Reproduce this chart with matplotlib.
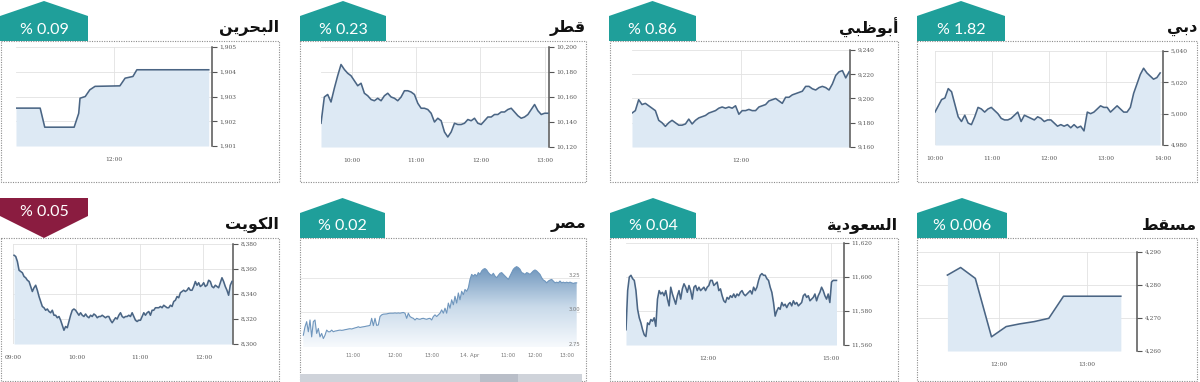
import numpy as np
import matplotlib
matplotlib.use("Agg")
import matplotlib.pyplot as plt
from matplotlib.patches import Polygon, Rectangle
from matplotlib.colors import LinearSegmentedColormap

# ------------------------------------------------------------------ data
market_names = ["البحرين", "قطر", "أبوظبي", "دبي", "الكويت", "مصر", "السعودية", "مسقط"]
market_changes = ["% 0.09", "% 0.23", "% 0.86", "% 1.82", "% 0.05", "% 0.02", "% 0.04", "% 0.006"]
market_up = [True, True, True, True, False, True, True, True]

# Bahrain (step-like, explicit times)
bahrain_times = ["09:30", "10:07", "10:14", "10:59", "11:02", "11:06", "11:08", "11:16",
                 "11:23", "11:31", "12:09", "12:17", "12:29", "12:35", "14:25"]
bahrain_values = [1902.53, 1902.53, 1901.76, 1901.76, 1902.0, 1902.32, 1902.93, 1903.0,
                  1903.27, 1903.41, 1903.43, 1903.74, 1903.81, 1904.08, 1904.08]
bahrain_yticks = [1901, 1902, 1903, 1904, 1905]
bahrain_xticks = ["12:00"]

# Qatar (evenly spaced 09:31 -> 13:03)
qatar_span = ("09:31", "13:03")
qatar_values = [10139, 10160, 10162, 10156, 10167, 10177, 10186, 10182, 10179, 10177,
                10173, 10169, 10171, 10163, 10161, 10158, 10157, 10159, 10157, 10161,
                10163, 10160, 10159, 10157, 10160, 10165, 10165, 10164, 10162, 10155,
                10151, 10151, 10150, 10147, 10140, 10143, 10141, 10132, 10128, 10132,
                10139, 10138, 10138, 10139, 10142, 10141, 10143, 10139, 10138, 10141,
                10144, 10144, 10146, 10146, 10148, 10148, 10150, 10151, 10148, 10145,
                10143, 10144, 10146, 10150, 10154, 10149, 10146, 10147, 10147]
qatar_yticks = [10120, 10140, 10160, 10180, 10200]
qatar_xticks = ["10:00", "11:00", "12:00", "13:00"]

# Abu Dhabi (evenly spaced 10:00 -> 13:59)
abudhabi_span = ("10:00", "13:59")
abudhabi_values = [9188, 9190, 9199, 9195, 9196, 9194, 9192, 9190, 9182, 9180,
                   9177, 9180, 9182, 9180, 9178, 9178, 9179, 9183, 9179, 9182,
                   9184, 9185, 9186, 9188, 9189, 9190, 9192, 9193, 9192, 9193,
                   9192, 9194, 9187, 9190, 9190, 9191, 9190, 9190, 9193, 9194,
                   9195, 9198, 9199, 9200, 9198, 9196, 9201, 9201, 9203, 9204,
                   9205, 9206, 9210, 9210, 9208, 9207, 9209, 9210, 9209, 9207,
                   9212, 9219, 9222, 9223, 9217, 9222]
abudhabi_yticks = [9160, 9180, 9200, 9220, 9240]
abudhabi_xticks = ["12:00"]

# Dubai (evenly spaced 10:00 -> 13:57)
dubai_span = ("10:00", "13:57")
dubai_values = [5001, 5005, 5009, 5010, 5016, 5014, 5006, 4998, 4995, 4999,
                4994, 4993, 4998, 5004, 5003, 5001, 5003, 5004, 5002, 5000,
                4997, 4996, 4996, 4997, 4999, 5001, 4995, 4999, 4998, 4997,
                4996, 4998, 4997, 4995, 4996, 4996, 4994, 4992, 4993, 4992,
                4993, 4991, 4993, 4991, 4992, 4989, 5001, 5000, 5001, 5003,
                5005, 5004, 5004, 5001, 5003, 5005, 5003, 5001, 5001, 5004,
                5013, 5019, 5025, 5029, 5026, 5024, 5022, 5023, 5026]
dubai_yticks = [4980, 5000, 5020, 5040]
dubai_xticks = ["10:00", "11:00", "12:00", "13:00", "14:00"]

# Kuwait (evenly spaced 09:01 -> 12:27)
kuwait_span = ("09:01", "12:27")
kuwait_values = [8371, 8370, 8366, 8359, 8358, 8357, 8354, 8353, 8351, 8350,
                 8346, 8342, 8345, 8347, 8343, 8338, 8334, 8330, 8329, 8327,
                 8328, 8326, 8325, 8327, 8323, 8323, 8321, 8322, 8319, 8315,
                 8311, 8314, 8313, 8318, 8323, 8327, 8328, 8327, 8325, 8323,
                 8325, 8323, 8322, 8324, 8322, 8321, 8323, 8322, 8324, 8323,
                 8321, 8322, 8322, 8323, 8322, 8321, 8322, 8322, 8319, 8317,
                 8319, 8321, 8320, 8323, 8325, 8322, 8321, 8322, 8322, 8323,
                 8322, 8325, 8322, 8319, 8318, 8319, 8319, 8322, 8325, 8323,
                 8325, 8326, 8323, 8327, 8327, 8329, 8329, 8329, 8330, 8329,
                 8331, 8330, 8329, 8329, 8331, 8330, 8334, 8335, 8338, 8337,
                 8341, 8342, 8343, 8342, 8343, 8345, 8343, 8343, 8346, 8350,
                 8347, 8349, 8346, 8347, 8349, 8346, 8347, 8351, 8350, 8346,
                 8345, 8347, 8346, 8345, 8349, 8353, 8350, 8346, 8343, 8339,
                 8347, 8350]
kuwait_yticks = [8300, 8320, 8340, 8360, 8380]
kuwait_xticks = ["09:00", "10:00", "11:00", "12:00"]

# Egypt (ordinal samples over two sessions)
egypt_values = [2.835, 2.896, 2.933, 2.860, 2.945, 2.823, 2.933, 2.945, 2.848, 2.884,
                2.823, 2.848, 2.811, 2.835, 2.872, 2.860, 2.860, 2.872, 2.860, 2.865,
                2.867, 2.870, 2.872, 2.870, 2.872, 2.875, 2.877, 2.880, 2.882, 2.880,
                2.884, 2.888, 2.891, 2.896, 2.891, 2.894, 2.896, 2.898, 2.901, 2.903,
                2.906, 2.957, 2.904, 2.957, 2.906, 2.909, 2.970, 2.982, 2.987, 2.988,
                2.989, 2.992, 2.994, 2.994, 2.994, 2.996, 2.994, 2.996, 2.994, 2.997,
                2.999, 2.994, 2.957, 2.994, 2.970, 2.962, 2.957, 2.945, 2.957, 2.952,
                2.950, 2.955, 2.957, 2.953, 2.950, 2.955, 2.957, 2.945, 2.970, 2.982,
                2.970, 2.982, 2.994, 3.018, 2.994, 3.030, 2.994, 3.067, 3.030, 3.091,
                3.055, 3.116, 3.067, 3.140, 3.091, 3.152, 3.128, 3.165, 3.152, 3.177,
                3.238, 3.274, 3.262, 3.274, 3.262, 3.287, 3.274, 3.299, 3.311, 3.316,
                3.306, 3.287, 3.274, 3.267, 3.282, 3.262, 3.250, 3.267, 3.282, 3.287,
                3.274, 3.262, 3.250, 3.238, 3.262, 3.287, 3.311, 3.323, 3.330, 3.323,
                3.311, 3.287, 3.282, 3.274, 3.287, 3.282, 3.274, 3.287, 3.299, 3.306,
                3.299, 3.287, 3.274, 3.250, 3.233, 3.226, 3.213, 3.226, 3.233, 3.238,
                3.226, 3.213, 3.218, 3.213, 3.226, 3.213, 3.218, 3.213, 3.218, 3.213,
                3.218, 3.213, 3.209, 3.213, 3.213]
egypt_yticks = [2.75, 3.00, 3.25]
egypt_tick_index = [30, 55, 77, 100, 123, 139, 158]
egypt_tick_labels = ["11:00", "12:00", "13:00", "14. Apr", "11:00", "12:00", "13:00"]

# Saudi (evenly spaced 10:00 -> 15:08)
saudi_span = ("10:00", "15:08")
saudi_values = [11569, 11592, 11600, 11601, 11599, 11598, 11592, 11581, 11576, 11573,
                11569, 11566, 11565, 11573, 11572, 11575, 11574, 11576, 11571, 11587,
                11592, 11590, 11591, 11589, 11592, 11587, 11583, 11594, 11590, 11587,
                11584, 11589, 11592, 11587, 11593, 11596, 11594, 11591, 11595, 11592,
                11587, 11594, 11595, 11592, 11594, 11592, 11593, 11594, 11592, 11594,
                11595, 11598, 11598, 11595, 11596, 11597, 11592, 11593, 11589, 11586,
                11585, 11588, 11587, 11589, 11588, 11590, 11588, 11590, 11589, 11591,
                11592, 11590, 11589, 11590, 11591, 11592, 11590, 11594, 11592, 11594,
                11598, 11601, 11602, 11601, 11601, 11599, 11598, 11594, 11591, 11585,
                11577, 11580, 11582, 11581, 11585, 11583, 11584, 11582, 11584, 11585,
                11583, 11586, 11584, 11585, 11583, 11584, 11585, 11589, 11590, 11588,
                11589, 11586, 11587, 11588, 11590, 11586, 11589, 11591, 11594, 11592,
                11589, 11587, 11590, 11585, 11597, 11598, 11598, 11598]
saudi_yticks = [11560, 11580, 11600, 11620]
saudi_xticks = ["12:00", "15:00"]

# Muscat (explicit times)
muscat_times = ["11:25", "11:34", "11:44", "11:55", "12:05", "12:14", "12:24", "12:34", "12:44", "13:23"]
muscat_values = [4283.0, 4285.3, 4282.0, 4264.3, 4267.4, 4268.2, 4268.9, 4269.9, 4276.6, 4276.6]
muscat_yticks = [4260, 4270, 4280, 4290]
muscat_xticks = ["12:00", "13:00"]

# ------------------------------------------------------------------ style
W, H = 1200, 382
TEAL = "#1f9f9a"
MAROON = "#8a1c40"
LINE = "#4a6584"
FILL = "#dde9f4"
GRID = "#e2e2e2"
SPINE = "#555555"
TICKC = "#555555"
TICKFONT = "DejaVu Serif"
BOX = "#8c8c8c"

# Arabic contextual shaping (presentation forms) for display
FORMS = {
    'ا': ('\uFE8D', '\uFE8E', None, None), 'أ': ('\uFE83', '\uFE84', None, None),
    'ب': ('\uFE8F', '\uFE90', '\uFE91', '\uFE92'), 'ة': ('\uFE93', '\uFE94', None, None),
    'ت': ('\uFE95', '\uFE96', '\uFE97', '\uFE98'), 'ح': ('\uFEA1', '\uFEA2', '\uFEA3', '\uFEA4'),
    'د': ('\uFEA9', '\uFEAA', None, None), 'ر': ('\uFEAD', '\uFEAE', None, None),
    'س': ('\uFEB1', '\uFEB2', '\uFEB3', '\uFEB4'), 'ص': ('\uFEB9', '\uFEBA', '\uFEBB', '\uFEBC'),
    'ط': ('\uFEC1', '\uFEC2', '\uFEC3', '\uFEC4'), 'ظ': ('\uFEC5', '\uFEC6', '\uFEC7', '\uFEC8'),
    'ع': ('\uFEC9', '\uFECA', '\uFECB', '\uFECC'), 'ق': ('\uFED5', '\uFED6', '\uFED7', '\uFED8'),
    'ك': ('\uFED9', '\uFEDA', '\uFEDB', '\uFEDC'), 'ل': ('\uFEDD', '\uFEDE', '\uFEDF', '\uFEE0'),
    'م': ('\uFEE1', '\uFEE2', '\uFEE3', '\uFEE4'), 'ن': ('\uFEE5', '\uFEE6', '\uFEE7', '\uFEE8'),
    'و': ('\uFEED', '\uFEEE', None, None), 'ي': ('\uFEF1', '\uFEF2', '\uFEF3', '\uFEF4'),
}


def shape_ar(text):
    out = []
    n = len(text)
    for i, c in enumerate(text):
        f = FORMS.get(c)
        if f is None:
            out.append(c)
            continue
        prev = text[i - 1] if i > 0 else None
        nxt = text[i + 1] if i < n - 1 else None
        jp = prev in FORMS and FORMS[prev][2] is not None
        jn = nxt in FORMS and f[2] is not None
        if jp and jn:
            g = f[3]
        elif jp:
            g = f[1]
        elif jn:
            g = f[2]
        else:
            g = f[0]
        out.append(g)
    return "".join(reversed(out))


def to_min(t):
    h, m = t.split(":")
    return int(h) * 60 + int(m)


fig = plt.figure(figsize=(12, 3.82), dpi=100)
fig.patch.set_facecolor("white")

# ------------------------------------------------------------------ frames / badges
bg = fig.add_axes([0, 0, 1, 1])
bg.set_xlim(0, W)
bg.set_ylim(H, 0)
bg.axis("off")

boxes = [(1, 41, 279, 182), (300, 41, 586, 182), (610, 41, 898, 182), (917, 41, 1197, 182),
         (1, 238, 279, 381), (300, 238, 586, 381), (610, 238, 898, 381), (917, 238, 1197, 381)]
badges = [(0, 88), (300, 386), (609, 696), (917, 1005),
          (0, 88), (300, 385), (610, 696), (917, 1007)]

for i, ((x0, y0, x1, y1), (bx0, bx1)) in enumerate(zip(boxes, badges)):
    bg.add_patch(Rectangle((x0, y0), x1 - x0, y1 - y0, fill=False, ec=BOX, lw=0.8,
                           ls=(0, (1, 1.2)), zorder=1))
    row1 = i < 4
    top = 1 if row1 else 198
    bottom = y0
    cx = (bx0 + bx1) / 2
    if market_up[i]:
        shoulder = top + 15
        pts = [(bx0, bottom), (bx0, shoulder), (cx, top), (bx1, shoulder), (bx1, bottom)]
        col = TEAL
        ty = (shoulder + bottom) / 2 + 1
    else:
        shoulder = top + 18
        pts = [(bx0, top), (bx1, top), (bx1, shoulder), (cx, bottom), (bx0, shoulder)]
        col = MAROON
        ty = top + 14
    bg.add_patch(Polygon(pts, closed=True, fc=col, ec="none", zorder=2))
    bg.text(cx, ty, market_changes[i], color="white", fontsize=11.5, family="Lato",
            ha="center", va="center", zorder=3)
    bg.text(x1, y0 - 13, shape_ar(market_names[i]), color="#111111", fontsize=11.5,
            fontweight="bold", family="DejaVu Sans", ha="right", va="center", zorder=3)

# Egypt navigator strip
bg.add_patch(Rectangle((300, 374), 282, 8, fc="#cfd3da", ec="none", zorder=2))
bg.add_patch(Rectangle((480, 374), 38, 8, fc="#b9bec8", ec="none", zorder=2))


# ------------------------------------------------------------------ panels
def axes_px(x0, y0, x1, y1):
    return fig.add_axes([x0 / W, 1 - y1 / H, (x1 - x0) / W, (y1 - y0) / H])


def line_panel(box, x, y, xlim, yticks, xticks):
    ax = axes_px(*box)
    ax.set_facecolor("none")
    ymin, ymax = yticks[0], yticks[-1]
    ax.fill_between(x, y, ymin, color=FILL, lw=0, zorder=2)
    ax.plot(x, y, color=LINE, lw=1.15, zorder=3, solid_joinstyle="round")
    ax.set_xlim(to_min(xlim[0]), to_min(xlim[1]))
    ax.set_ylim(ymin, ymax)
    ax.set_yticks(yticks)
    ax.set_yticklabels([f"{v:,}" for v in yticks])
    ax.set_xticks([to_min(t) for t in xticks])
    ax.set_xticklabels(xticks)
    ax.yaxis.tick_right()
    for s in ("top", "left", "bottom"):
        ax.spines[s].set_visible(False)
    ax.spines["right"].set_color(SPINE)
    ax.spines["right"].set_linewidth(1.1)
    ax.tick_params(axis="y", length=3.5, width=0.8, color=SPINE, pad=2,
                   labelsize=4.2, labelcolor=TICKC)
    ax.tick_params(axis="x", length=0, pad=8, labelsize=4.2, labelcolor=TICKC)
    ax.grid(True, color=GRID, lw=0.6, zorder=0)
    ax.set_axisbelow(True)
    for lbl in ax.get_xticklabels() + ax.get_yticklabels():
        lbl.set_fontfamily(TICKFONT)
    return ax


def even_times(span, n):
    return np.linspace(to_min(span[0]), to_min(span[1]), n)


line_panel((16, 47, 212, 146), [to_min(t) for t in bahrain_times], bahrain_values,
           ("09:30", "14:30"), bahrain_yticks, bahrain_xticks)
line_panel((321, 47, 549, 147), even_times(qatar_span, len(qatar_values)), qatar_values,
           ("09:31", "13:04"), qatar_yticks, qatar_xticks)
line_panel((632, 50, 850, 147), even_times(abudhabi_span, len(abudhabi_values)), abudhabi_values,
           ("10:00", "14:00"), abudhabi_yticks, abudhabi_xticks)
line_panel((935, 51, 1163, 145), even_times(dubai_span, len(dubai_values)), dubai_values,
           ("10:00", "14:00"), dubai_yticks, dubai_xticks)
line_panel((13, 244, 233, 344), even_times(kuwait_span, len(kuwait_values)), kuwait_values,
           ("09:00", "12:28"), kuwait_yticks, kuwait_xticks)
line_panel((626, 243, 844, 345), even_times(saudi_span, len(saudi_values)), saudi_values,
           ("10:00", "15:19"), saudi_yticks, saudi_xticks)
line_panel((918, 252, 1137, 351), [to_min(t) for t in muscat_times], muscat_values,
           ("11:05", "13:34"), muscat_yticks, muscat_xticks)

# Egypt panel (gradient area, labels inside on the right)
ax = axes_px(300, 250, 580, 347)
ax.set_facecolor("none")
ex = np.arange(len(egypt_values))
ylo, yhi = 2.75, 3.45
verts = [(ex[0], ylo)] + list(zip(ex, egypt_values)) + [(ex[-1], ylo)]
clip = Polygon(verts, closed=True, fc="none", ec="none")
ax.add_patch(clip)
cmap = LinearSegmentedColormap.from_list("eg", ["#f7fafd", "#c9daea", "#6e95bc"])
grad = np.linspace(0, 1, 256).reshape(-1, 1)
im = ax.imshow(grad, extent=[ex[0], ex[-1], ylo, max(egypt_values)], origin="lower",
               aspect="auto", cmap=cmap, zorder=2)
im.set_clip_path(clip)
ax.plot(ex, egypt_values, color="#6f96bd", lw=0.8, zorder=3)
ax.set_xlim(-2, len(egypt_values) + 1)
ax.set_ylim(ylo, yhi)
for s in ("top", "left", "right", "bottom"):
    ax.spines[s].set_visible(False)
ax.set_yticks(egypt_yticks)
ax.tick_params(axis="y", left=False, labelleft=False)
for v in egypt_yticks:
    ax.axhline(v, color="#e4e4e4", lw=0.6, zorder=1 if v > ylo else 4)
    ax.text(1.0, v, f"{v:.2f}", transform=ax.get_yaxis_transform(), ha="right", va="bottom",
            fontsize=3.8, color="#777777", zorder=5)
ax.set_xticks(egypt_tick_index)
ax.set_xticklabels(egypt_tick_labels)
ax.tick_params(axis="x", length=0, pad=4, labelsize=3.8, labelcolor="#777777")

fig.savefig("out.png", dpi=100, facecolor="white")
